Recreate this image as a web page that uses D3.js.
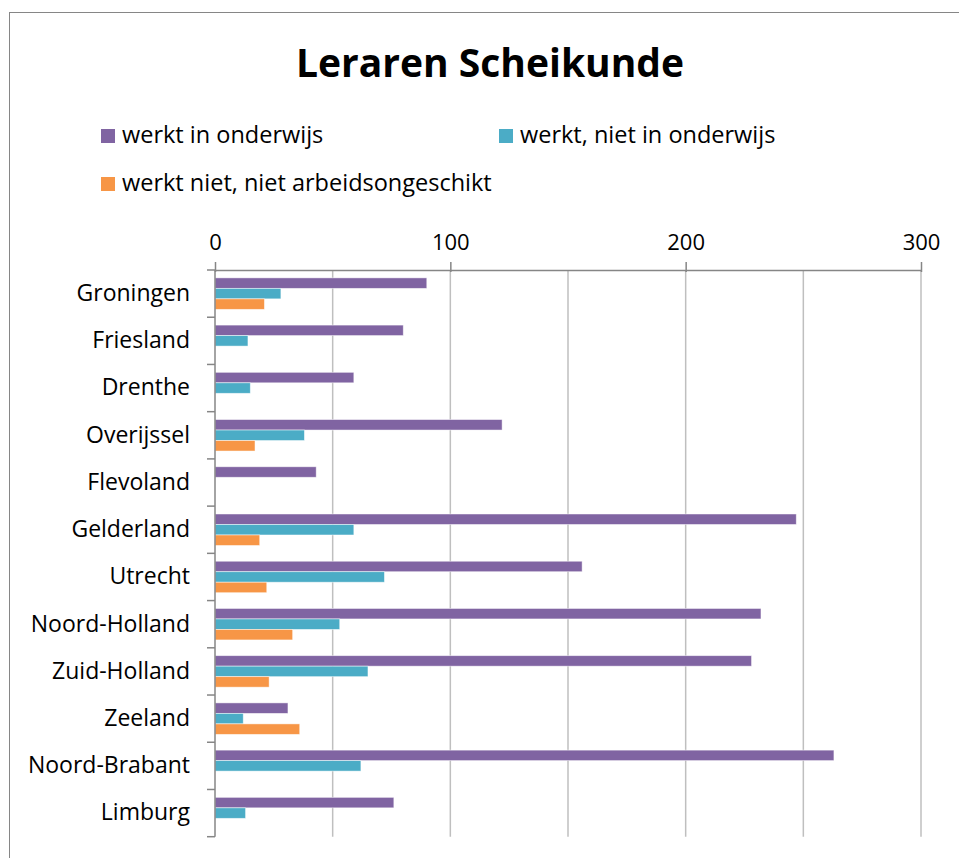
<!DOCTYPE html>
<html>
<head>
<meta charset="utf-8">
<script src="https://cdn.jsdelivr.net/npm/d3@7"></script>
<style>
  body { margin: 0; background: #fff; }
  svg { display: block; font-family: "Open Sans", "Liberation Sans", sans-serif; }
</style>
</head>
<body>
<div id="chart"></div>
<script>
// provinces, top to bottom
const categories = ["Groningen", "Friesland", "Drenthe", "Overijssel", "Flevoland", "Gelderland",
    "Utrecht", "Noord-Holland", "Zuid-Holland", "Zeeland", "Noord-Brabant", "Limburg"];
const seriesNames = ["werkt in onderwijs", "werkt, niet in onderwijs", "werkt niet, niet arbeidsongeschikt"];
const inOnderwijs =    [90, 80, 59, 122, 43, 247, 156, 232, 228, 31, 263, 76];
const nietOnderwijs =  [28, 14, 15, 38, 0, 59, 72, 53, 65, 12, 62, 13];
const werktNiet =      [21, 0, 0, 17, 0, 19, 22, 33, 23, 36, 0, 0];
const xTicks = [0, 100, 200, 300];
const xGrid = [50, 100, 150, 200, 250, 300];
const colors = ["#8064A2", "#4BACC6", "#F79646"];

const width = 959, height = 858;
const svg = d3.select('#chart').append('svg')
    .attr('width', width)
    .attr('height', height);

// outer frame (runs off the right and bottom of the picture)
svg.append('rect')
    .attr('x', 9.5).attr('y', 12.5)
    .attr('width', 980).attr('height', 900)
    .attr('fill', 'none')
    .attr('stroke', '#868686');

svg.append('text')
    .attr('x', 490).attr('y', 77)
    .attr('text-anchor', 'middle')
    .attr('font-size', 39)
    .attr('font-weight', 'bold')
    .text('Leraren Scheikunde');

// legend
const legendPos = [[101, 129], [499, 129], [101, 177]];
const legend = svg.append('g').selectAll('g')
    .data(seriesNames)
    .join('g')
    .attr('transform', (d, i) => `translate(${legendPos[i][0]},${legendPos[i][1]})`);
legend.append('rect')
    .attr('width', 14).attr('height', 14)
    .attr('fill', (d, i) => colors[i]);
legend.append('text')
    .attr('x', 21).attr('y', 13.5)
    .attr('font-size', 23.5)
    .text(d => d);

// scales
const x = d3.scaleLinear().domain([0, 300]).range([215, 921]);
const y = d3.scaleBand().domain(categories).range([270, 836.7]);
const ySub = d3.scaleBand().domain(d3.range(seriesNames.length))
    .range([0, y.bandwidth()])
    .paddingOuter(0.75);

// gridlines
svg.append('g').selectAll('line')
    .data(xGrid)
    .join('line')
    .attr('x1', d => x(d)).attr('x2', d => x(d))
    .attr('y1', 270).attr('y2', 836.7)
    .attr('stroke', '#BFBFBF')
    .attr('stroke-width', 1.5);

// bars
const table = categories.map((c, i) => ({
    name: c,
    values: [inOnderwijs[i], nietOnderwijs[i], werktNiet[i]]
}));
svg.append('g').selectAll('g')
    .data(table)
    .join('g')
    .attr('transform', d => `translate(0,${y(d.name)})`)
    .selectAll('rect')
    .data(d => d.values.map((v, k) => ({ v, k })).filter(e => e.v > 0))
    .join('rect')
    .attr('x', x(0))
    .attr('y', e => ySub(e.k))
    .attr('width', e => x(e.v) - x(0))
    .attr('height', ySub.bandwidth())
    .attr('fill', e => colors[e.k])
    .attr('stroke', 'rgba(255,255,255,0.6)')
    .attr('stroke-width', 0.8);

// top value axis, ticks cross the line a little
const xAxis = svg.append('g')
    .attr('transform', 'translate(0,270)')
    .call(d3.axisTop(x).tickValues(xTicks).tickSize(8).tickSizeOuter(0).tickPadding(12));
xAxis.select('.domain').attr('stroke', '#868686').attr('stroke-width', 1.5);
xAxis.selectAll('.tick line').attr('y2', -8).attr('y1', 2)
    .attr('stroke', '#868686').attr('stroke-width', 1.5);
xAxis.selectAll('.tick text')
    .attr('font-size', 22)
    .attr('font-family', '"Open Sans", sans-serif')
    .attr('fill', '#000');

// category axis with tick marks between the categories
const yAxis = svg.append('g')
    .attr('transform', `translate(${x(0)},0)`)
    .call(d3.axisLeft(y).tickSize(0).tickPadding(25));
yAxis.select('.domain').remove();
yAxis.selectAll('.tick text')
    .attr('font-size', 23)
    .attr('font-family', '"Open Sans", sans-serif')
    .attr('fill', '#000');
const bounds = categories.map(c => y(c)).concat([y.range()[1]]);
yAxis.append('line')
    .attr('x1', 0).attr('x2', 0)
    .attr('y1', y.range()[0]).attr('y2', y.range()[1])
    .attr('stroke', '#868686').attr('stroke-width', 1.5);
yAxis.selectAll('.sep')
    .data(bounds)
    .join('line')
    .attr('class', 'sep')
    .attr('x1', -8).attr('x2', 0)
    .attr('y1', d => d).attr('y2', d => d)
    .attr('stroke', '#868686').attr('stroke-width', 1.5);
</script>
</body>
</html>
